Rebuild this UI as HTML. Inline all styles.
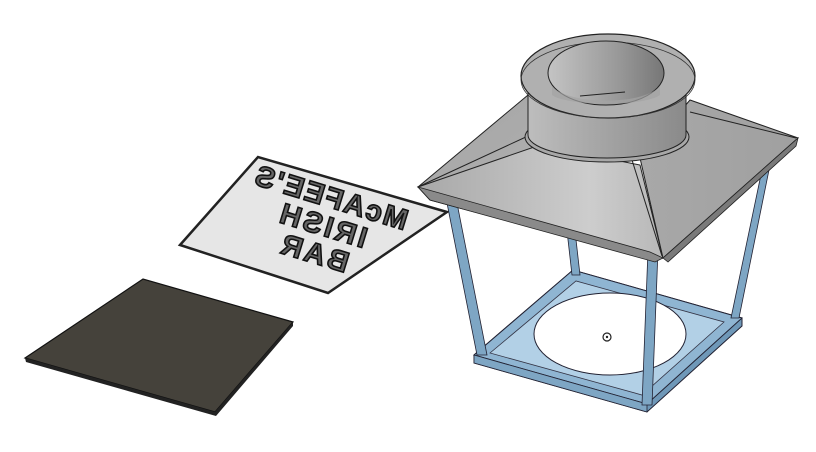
<!DOCTYPE html>
<html><head><style>html,body{margin:0;padding:0;background:#fff;width:816px;height:452px;overflow:hidden}</style></head>
<body>
<svg width="816" height="452" viewBox="0 0 816 452" xmlns="http://www.w3.org/2000/svg">
<defs>
<linearGradient id="roofL" x1="0" y1="0" x2="1" y2="1"><stop offset="0" stop-color="#a4a4a4"/><stop offset="1" stop-color="#b8b8b8"/></linearGradient>
<linearGradient id="roofF" x1="0" y1="0" x2="1" y2="0"><stop offset="0" stop-color="#a8a8a8"/><stop offset="0.7" stop-color="#cdcdcd"/><stop offset="1" stop-color="#b8b8b8"/></linearGradient>
<linearGradient id="roofR" x1="0" y1="0" x2="1" y2="0"><stop offset="0" stop-color="#a8a8a8"/><stop offset="1" stop-color="#a0a0a0"/></linearGradient>
<linearGradient id="cyl" x1="0" y1="0" x2="1" y2="0"><stop offset="0" stop-color="#bdbdbd"/><stop offset="0.4" stop-color="#a8a8a8"/><stop offset="1" stop-color="#8a8a8a"/></linearGradient>
<linearGradient id="inner" x1="0" y1="0" x2="1" y2="0"><stop offset="0" stop-color="#c4c4c4"/><stop offset="0.6" stop-color="#999"/><stop offset="1" stop-color="#777"/></linearGradient>
</defs>

<polygon points="25,358 143,279 293,322 215,412" fill="#45423b" stroke="#111" stroke-width="1.2"/>
<polygon points="25,358 215,412 293,322 293,326 216,416 26,362" fill="#222"/>

<polygon points="180,245 258,157 447,212 328,293" fill="#e6e6e6" stroke="#222" stroke-width="2.5"/>
<g transform="translate(322,226) rotate(17) scale(-1,1)" font-family="Liberation Sans, sans-serif" font-weight="bold" text-anchor="middle" fill="#666" stroke="#111" stroke-width="1.6">
<text x="0" y="-20" font-size="29" letter-spacing="2">McAFEE'S</text>
<text x="0" y="9" font-size="29" letter-spacing="3">IRISH</text>
<text x="0" y="38" font-size="29" letter-spacing="3">BAR</text>
</g>

<polygon points="474,355 573,270 742,318 742,326 647,412 474,363" fill="#6f98b8" stroke="#223" stroke-width="1"/>
<polygon points="474,355 573,270 742,318 647,404" fill="#8fb5d2" stroke="#223" stroke-width="1"/>
<polygon points="490,353 576,281 724,322 642,395" fill="#b2d0e6" stroke="#334" stroke-width="0.8"/>
<ellipse cx="610" cy="334" rx="76" ry="41" fill="#fff" stroke="#223" stroke-width="1"/>
<circle cx="607" cy="337" r="4" fill="none" stroke="#222" stroke-width="1.2"/><circle cx="607" cy="337" r="1.2" fill="#222"/>
<polygon points="474,355 647,404 647,412 474,363" fill="#7ea6c4" stroke="#223" stroke-width="0.8"/>

<polygon points="566,222 574,222 580,275 572,275" fill="#7ea6c4" stroke="#223" stroke-width="0.8"/>
<polygon points="446,198 456,198 487,355 477,355" fill="#7ea6c4" stroke="#223" stroke-width="0.8"/>
<polygon points="763,165 770,165 739,318 731,318" fill="#7ea6c4" stroke="#223" stroke-width="0.8"/>
<polygon points="648,250 658,250 652,405 642,405" fill="#7ea6c4" stroke="#223" stroke-width="0.8"/>

<polygon points="418,187 528,95 540,150 650,258" fill="url(#roofL)" stroke="#222" stroke-width="1"/>
<polygon points="418,187 540,145 640,165 663,258 655,260 430,200" fill="url(#roofF)" stroke="#222" stroke-width="1"/>
<polygon points="640,158 690,100 798,138 663,258" fill="url(#roofR)" stroke="#222" stroke-width="1"/>
<polygon points="418,187 430,200 655,262 663,258 650,252" fill="#8a8a8a" stroke="#222" stroke-width="0.8"/>
<polygon points="663,258 798,138 796,146 668,262" fill="#7a7a7a" stroke="#222" stroke-width="0.8"/>
<line x1="528" y1="136" x2="420" y2="186" stroke="#222" stroke-width="1"/>
<line x1="632" y1="160" x2="662" y2="256" stroke="#222" stroke-width="1"/>
<line x1="690" y1="112" x2="796" y2="138" stroke="#222" stroke-width="1"/>

<ellipse cx="607" cy="137" rx="82" ry="25" fill="#a8a8a8" stroke="#222" stroke-width="1"/>
<path d="M528,75 L528,135 A79,23 0 0 0 686,135 L686,75 Z" fill="url(#cyl)" stroke="#222" stroke-width="1"/>
<ellipse cx="608" cy="76" rx="87" ry="42" fill="#b0b0b0" stroke="#222" stroke-width="1.2"/>
<ellipse cx="608" cy="80" rx="87" ry="38" fill="none" stroke="#333" stroke-width="0.8"/>
<ellipse cx="606" cy="73" rx="58" ry="32" fill="url(#inner)" stroke="#222" stroke-width="1"/>
<path d="M552,86 A56,20 0 0 0 660,86 L660,95 A56,12 0 0 1 552,95 Z" fill="#a4a4a4" opacity="0.7"/>
<line x1="580" y1="96" x2="625" y2="92" stroke="#222" stroke-width="1"/>
</svg>
</body></html>
